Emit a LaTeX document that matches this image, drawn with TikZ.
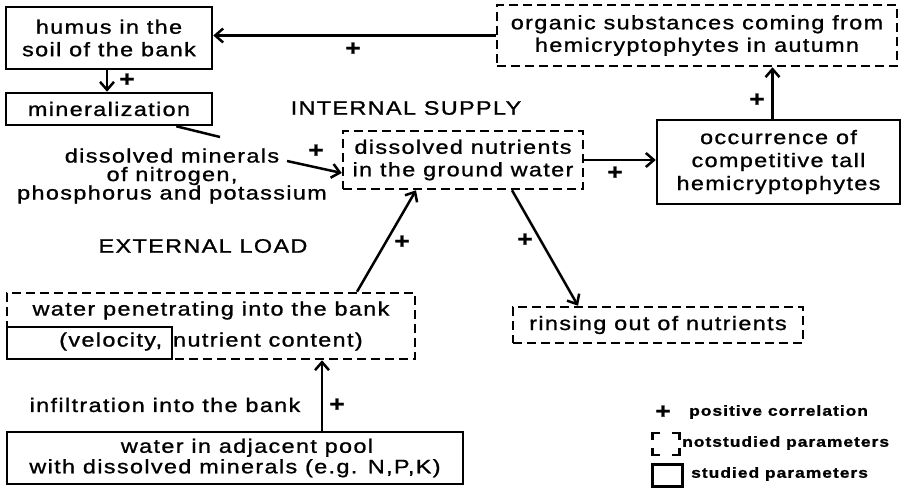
\documentclass[tikz,border=0pt]{standalone}
\usepackage{fontspec}
\setmainfont{Liberation Sans}[FakeStretch=1.2, LetterSpace=7, FakeBold=1.1]
\usetikzlibrary{arrows.meta}
\newcommand\bxf{\fontsize{19.5}{22.5}\selectfont}
\newcommand\lgf{\bfseries\fontsize{14.5}{17}\selectfont}
\tikzset{
  box/.style={draw, line width=2.5pt, inner sep=0pt, align=center, font=\bxf},
  dbox/.style={box, dash pattern=on 9pt off 5pt},
  txt/.style={inner sep=0pt, align=center, font=\bxf},
  arr/.style={line width=2.5pt, -{Straight Barb[length=8pt,width=14pt,line width=2.5pt]}},
  ln/.style={line width=2.5pt},
  pl/.style={inner sep=0pt, font=\bfseries\fontsize{22}{22}\selectfont},
  lg/.style={inner sep=0pt, anchor=west, font=\lgf}
}
\begin{document}
\begin{tikzpicture}[x=1pt,y=-1pt]
\useasboundingbox (0,0) rectangle (905,492);
% boxes
\node[box, minimum width=206, minimum height=62] (humus) at (109,38) {humus in the\\soil of the bank};
\node[box, minimum width=206, minimum height=32] (mineral) at (109,109) {mineralization};
\node[dbox, minimum width=400, minimum height=61] (organic) at (697,35.5) {organic substances coming from\\hemicryptophytes in autumn};
\node[box, minimum width=243, minimum height=84, font=\fontsize{19.5}{23}\selectfont] (occ) at (778.5,162) {occurrence of\\competitive tall\\hemicryptophytes};
\node[dbox, minimum width=240, minimum height=58] (nut) at (463,160) {dissolved nutrients\\in the ground water};
\node[dbox, minimum width=290, minimum height=36] (rinsing) at (658,325) {rinsing out of nutrients};
\node[dbox, minimum width=408, minimum height=66, font=\fontsize{19.5}{31}\selectfont] (pen) at (211,326) {water penetrating into the bank\\(velocity,\hspace{11pt}nutrient content)};
\node[box, minimum width=165, minimum height=32] (vel) at (89.5,343) {};
\node[box, minimum width=456, minimum height=52, font=\fontsize{19.5}{20.5}\selectfont] (pool) at (235,458) {\hspace*{24pt}water in adjacent pool\\with dissolved minerals (e.g. N,P,K)};
% free texts
\node[txt] (internal) at (406,108) {INTERNAL SUPPLY};
\node[txt] (external) at (203,246) {EXTERNAL LOAD};
\node[txt, font=\fontsize{19.5}{18.5}\selectfont] (minerals) at (172,176) {dissolved minerals\\of nitrogen,\\phosphorus and potassium};
\node[txt] (infil) at (165,405) {infiltration into the bank};
% connectors
\draw[arr] (organic.west) -- (organic.west -| humus.east);
\draw[arr] ([xshift=-2pt]humus.south) -- ([xshift=-2pt]mineral.north);
\draw[arr] ([xshift=-6pt]occ.north) -- ([xshift=-6pt]occ.north |- organic.south);
\draw[arr] (nut.east) -- (nut.east -| occ.west);
\draw[arr] ([xshift=49pt]nut.south) -- ([xshift=-80pt]rinsing.north);
\draw[arr] ([xshift=146pt]pen.north) -- ([xshift=-47pt]nut.south);
\draw[arr] ([xshift=87pt]pool.north) -- ([xshift=87pt]pool.north |- pen.south);
\coordinate (mline) at (220,137);
\draw[ln] ([xshift=-37pt]mineral.south east) -- (mline);
\coordinate (mstart) at (287,161);
\draw[arr] (mstart) -- ([yshift=-13pt]nut.west);
% plus signs
\node[pl] (p1) at (353,49) {+};
\node[pl] (p2) at (127,80) {+};
\node[pl] (p3) at (757,100) {+};
\node[pl] (p4) at (316,151) {+};
\node[pl] (p5) at (615,173) {+};
\node[pl] (p6) at (525,240) {+};
\node[pl] (p7) at (402,242) {+};
\node[pl] (p8) at (337,405) {+};
% legend
\node[pl] (lp) at (663,412) {+};
\node[lg] (lt1) at (689,412) {positive correlation};
\node[minimum width=27, minimum height=22, inner sep=0pt] (ld) at (666,444) {};
\draw[ln] ([yshift=-7pt]ld.north west) |- ([xshift=8pt]ld.north west);
\draw[ln] ([yshift=-7pt]ld.north east) |- ([xshift=-8pt]ld.north east);
\draw[ln] ([yshift=7pt]ld.south west) |- ([xshift=8pt]ld.south west);
\draw[ln] ([yshift=7pt]ld.south east) |- ([xshift=-8pt]ld.south east);
\node[lg] (lt2) at (682,443) {notstudied parameters};
\node[draw, line width=2.5pt, minimum width=30, minimum height=22, inner sep=0pt] (ls) at (667.5,475.5) {};
\node[lg] (lt3) at (691,474) {studied parameters};
\end{tikzpicture}
\end{document}
